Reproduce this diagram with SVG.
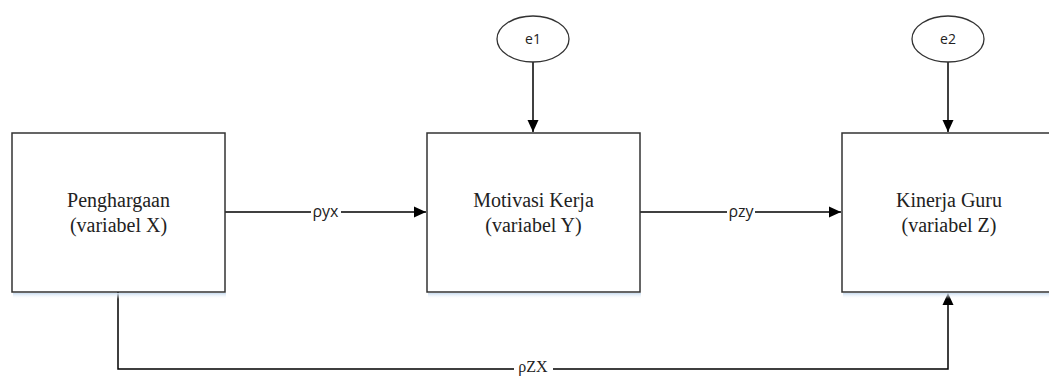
<svg xmlns="http://www.w3.org/2000/svg" width="1049" height="376" viewBox="0 0 1049 376">
<defs>
<marker id="arr" viewBox="0 0 12 12" refX="12" refY="6" markerWidth="12" markerHeight="12" markerUnits="userSpaceOnUse" orient="auto">
<path d="M0,0.5 L12,6 L0,11.5 Z" fill="#000"/>
</marker>
<linearGradient id="sh" x1="0" y1="0" x2="0" y2="1">
<stop offset="0" stop-color="#c9dcf0"/>
<stop offset="1" stop-color="#ffffff" stop-opacity="0"/>
</linearGradient>
</defs>
<style>
.box{fill:#fff;stroke:#333;stroke-width:1.5}
.ell{fill:#fff;stroke:#333;stroke-width:1.3}
.con{fill:none;stroke:#000;stroke-width:1.5}
.lbl{font-family:"Liberation Serif",serif;font-size:20px;fill:#222;text-anchor:middle}
.sans{font-family:"Open Sans","DejaVu Sans",sans-serif;font-size:16px;fill:#222;text-anchor:middle}
.small{font-family:"Open Sans","DejaVu Sans",sans-serif;font-size:14px;fill:#222;text-anchor:middle}
.shadow{fill:url(#sh)}
</style>
<rect x="0" y="0" width="1049" height="376" fill="#fff"/>
<g id="connectors">
<line class="con" x1="225" y1="212" x2="426" y2="212" marker-end="url(#arr)"/>
<line class="con" x1="640" y1="212" x2="841" y2="212" marker-end="url(#arr)"/>
<line class="con" x1="533" y1="62" x2="533" y2="132" marker-end="url(#arr)"/>
<line class="con" x1="948" y1="62" x2="948" y2="132" marker-end="url(#arr)"/>
<polyline class="con" points="118,292 118,369 948,369 948,293" marker-end="url(#arr)"/>
<rect x="311" y="204" width="30" height="14" fill="#fff"/>
<text class="sans" x="325.5" y="217">ρyx</text>
<rect x="727" y="204" width="28" height="14" fill="#fff"/>
<text class="sans" x="741" y="217">ρzy</text>
<rect x="514" y="360" width="39" height="16" fill="#fff"/>
<text class="lbl" x="533" y="372" style="font-size:16px">ρZX</text>
</g>
<g id="node-x">
<rect class="shadow" x="13" y="293" width="213" height="6"/>
<rect class="box" x="12" y="133" width="213" height="159"/>
<text class="lbl" x="118.5" y="207">Penghargaan</text>
<text class="lbl" x="118.5" y="232">(variabel X)</text>
</g>
<g id="node-y">
<rect class="shadow" x="428" y="293" width="213" height="6"/>
<rect class="box" x="427" y="133" width="213" height="159"/>
<text class="lbl" x="533.5" y="207">Motivasi Kerja</text>
<text class="lbl" x="533.5" y="232">(variabel Y)</text>
</g>
<g id="node-z">
<rect class="shadow" x="843" y="293" width="213" height="6"/>
<rect class="box" x="842" y="133" width="213" height="159"/>
<text class="lbl" x="949" y="207">Kinerja Guru</text>
<text class="lbl" x="949" y="232">(variabel Z)</text>
</g>
<g id="node-e1">
<ellipse class="ell" cx="533" cy="39" rx="36" ry="23"/>
<text class="small" x="533" y="44">e1</text>
</g>
<g id="node-e2">
<ellipse class="ell" cx="948" cy="39" rx="36" ry="23"/>
<text class="small" x="948" y="44">e2</text>
</g>
</svg>
